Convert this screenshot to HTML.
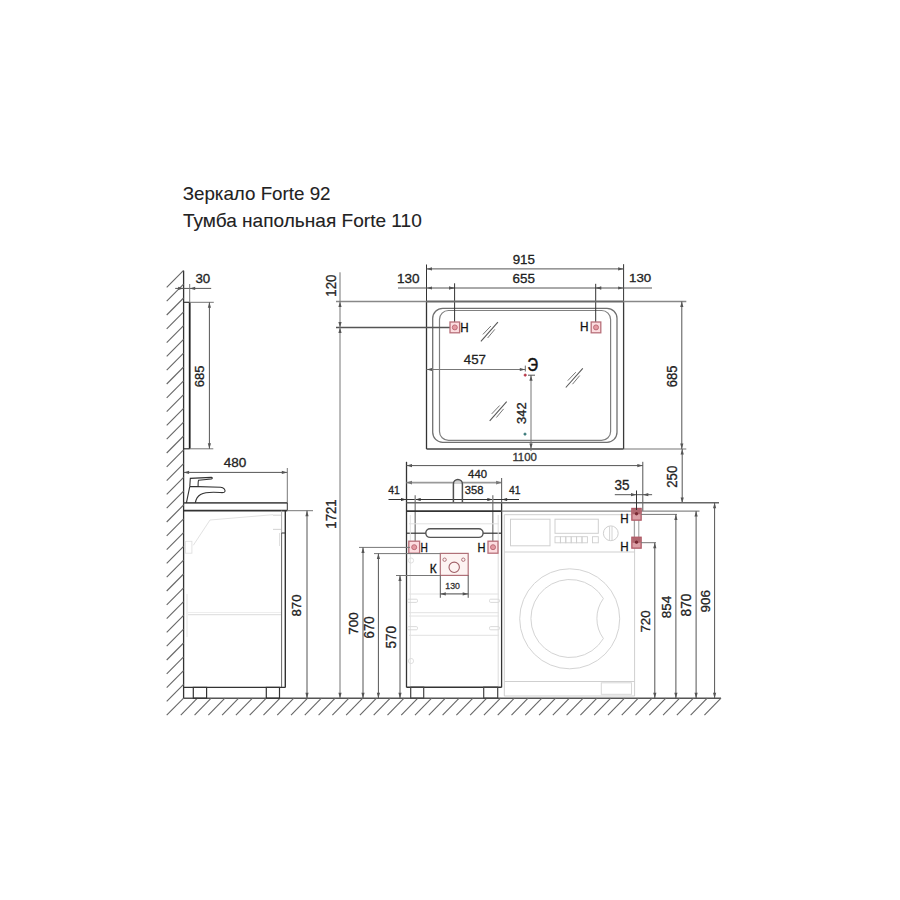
<!DOCTYPE html>
<html><head><meta charset="utf-8"><style>
html,body{margin:0;padding:0;background:#fff;width:900px;height:900px;overflow:hidden}
svg{display:block}
text{font-family:"Liberation Sans",sans-serif}
</style></head><body>
<svg width="900" height="900" viewBox="0 0 900 900">
<rect width="900" height="900" fill="#fff"/>
<text x="182.64" y="200.00" font-size="19" fill="#222" stroke="#222" stroke-width="0.1" text-anchor="start" textLength="147.8942948717949" lengthAdjust="spacingAndGlyphs" >Зеркало Forte 92</text>
<text x="182.92" y="227.20" font-size="19" fill="#222" stroke="#222" stroke-width="0.1" text-anchor="start" textLength="238.86790697674417" lengthAdjust="spacingAndGlyphs" >Тумба напольная Forte 110</text>
<line x1="183.60" y1="270.80" x2="183.60" y2="698.20" stroke="#333" stroke-width="1.3" />
<line x1="183.60" y1="698.20" x2="166.70" y2="715.20" stroke="#666" stroke-width="1.1" />
<line x1="183.60" y1="684.40" x2="166.70" y2="701.40" stroke="#666" stroke-width="1.1" />
<line x1="183.60" y1="670.60" x2="166.70" y2="687.60" stroke="#666" stroke-width="1.1" />
<line x1="183.60" y1="656.80" x2="166.70" y2="673.80" stroke="#666" stroke-width="1.1" />
<line x1="183.60" y1="643.00" x2="166.70" y2="660.00" stroke="#666" stroke-width="1.1" />
<line x1="183.60" y1="629.20" x2="166.70" y2="646.20" stroke="#666" stroke-width="1.1" />
<line x1="183.60" y1="615.40" x2="166.70" y2="632.40" stroke="#666" stroke-width="1.1" />
<line x1="183.60" y1="601.60" x2="166.70" y2="618.60" stroke="#666" stroke-width="1.1" />
<line x1="183.60" y1="587.80" x2="166.70" y2="604.80" stroke="#666" stroke-width="1.1" />
<line x1="183.60" y1="574.00" x2="166.70" y2="591.00" stroke="#666" stroke-width="1.1" />
<line x1="183.60" y1="560.20" x2="166.70" y2="577.20" stroke="#666" stroke-width="1.1" />
<line x1="183.60" y1="546.40" x2="166.70" y2="563.40" stroke="#666" stroke-width="1.1" />
<line x1="183.60" y1="532.60" x2="166.70" y2="549.60" stroke="#666" stroke-width="1.1" />
<line x1="183.60" y1="518.80" x2="166.70" y2="535.80" stroke="#666" stroke-width="1.1" />
<line x1="183.60" y1="505.00" x2="166.70" y2="522.00" stroke="#666" stroke-width="1.1" />
<line x1="183.60" y1="491.20" x2="166.70" y2="508.20" stroke="#666" stroke-width="1.1" />
<line x1="183.60" y1="477.40" x2="166.70" y2="494.40" stroke="#666" stroke-width="1.1" />
<line x1="183.60" y1="463.60" x2="166.70" y2="480.60" stroke="#666" stroke-width="1.1" />
<line x1="183.60" y1="449.80" x2="166.70" y2="466.80" stroke="#666" stroke-width="1.1" />
<line x1="183.60" y1="436.00" x2="166.70" y2="453.00" stroke="#666" stroke-width="1.1" />
<line x1="183.60" y1="422.20" x2="166.70" y2="439.20" stroke="#666" stroke-width="1.1" />
<line x1="183.60" y1="408.40" x2="166.70" y2="425.40" stroke="#666" stroke-width="1.1" />
<line x1="183.60" y1="394.60" x2="166.70" y2="411.60" stroke="#666" stroke-width="1.1" />
<line x1="183.60" y1="380.80" x2="166.70" y2="397.80" stroke="#666" stroke-width="1.1" />
<line x1="183.60" y1="367.00" x2="166.70" y2="384.00" stroke="#666" stroke-width="1.1" />
<line x1="183.60" y1="353.20" x2="166.70" y2="370.20" stroke="#666" stroke-width="1.1" />
<line x1="183.60" y1="339.40" x2="166.70" y2="356.40" stroke="#666" stroke-width="1.1" />
<line x1="183.60" y1="325.60" x2="166.70" y2="342.60" stroke="#666" stroke-width="1.1" />
<line x1="183.60" y1="311.80" x2="166.70" y2="328.80" stroke="#666" stroke-width="1.1" />
<line x1="183.60" y1="298.00" x2="166.70" y2="315.00" stroke="#666" stroke-width="1.1" />
<line x1="183.60" y1="284.20" x2="166.70" y2="301.20" stroke="#666" stroke-width="1.1" />
<line x1="183.60" y1="270.40" x2="166.70" y2="287.40" stroke="#666" stroke-width="1.1" />
<line x1="183.60" y1="698.20" x2="721.00" y2="698.20" stroke="#555" stroke-width="1.5" />
<line x1="197.38" y1="698.20" x2="180.78" y2="715.20" stroke="#666" stroke-width="1.1" />
<line x1="211.16" y1="698.20" x2="194.56" y2="715.20" stroke="#666" stroke-width="1.1" />
<line x1="224.94" y1="698.20" x2="208.34" y2="715.20" stroke="#666" stroke-width="1.1" />
<line x1="238.72" y1="698.20" x2="222.12" y2="715.20" stroke="#666" stroke-width="1.1" />
<line x1="252.50" y1="698.20" x2="235.90" y2="715.20" stroke="#666" stroke-width="1.1" />
<line x1="266.28" y1="698.20" x2="249.68" y2="715.20" stroke="#666" stroke-width="1.1" />
<line x1="280.06" y1="698.20" x2="263.46" y2="715.20" stroke="#666" stroke-width="1.1" />
<line x1="293.84" y1="698.20" x2="277.24" y2="715.20" stroke="#666" stroke-width="1.1" />
<line x1="307.62" y1="698.20" x2="291.02" y2="715.20" stroke="#666" stroke-width="1.1" />
<line x1="321.40" y1="698.20" x2="304.80" y2="715.20" stroke="#666" stroke-width="1.1" />
<line x1="335.18" y1="698.20" x2="318.58" y2="715.20" stroke="#666" stroke-width="1.1" />
<line x1="348.96" y1="698.20" x2="332.36" y2="715.20" stroke="#666" stroke-width="1.1" />
<line x1="362.74" y1="698.20" x2="346.14" y2="715.20" stroke="#666" stroke-width="1.1" />
<line x1="376.52" y1="698.20" x2="359.92" y2="715.20" stroke="#666" stroke-width="1.1" />
<line x1="390.30" y1="698.20" x2="373.70" y2="715.20" stroke="#666" stroke-width="1.1" />
<line x1="404.08" y1="698.20" x2="387.48" y2="715.20" stroke="#666" stroke-width="1.1" />
<line x1="417.86" y1="698.20" x2="401.26" y2="715.20" stroke="#666" stroke-width="1.1" />
<line x1="431.64" y1="698.20" x2="415.04" y2="715.20" stroke="#666" stroke-width="1.1" />
<line x1="445.42" y1="698.20" x2="428.82" y2="715.20" stroke="#666" stroke-width="1.1" />
<line x1="459.20" y1="698.20" x2="442.60" y2="715.20" stroke="#666" stroke-width="1.1" />
<line x1="472.98" y1="698.20" x2="456.38" y2="715.20" stroke="#666" stroke-width="1.1" />
<line x1="486.76" y1="698.20" x2="470.16" y2="715.20" stroke="#666" stroke-width="1.1" />
<line x1="500.54" y1="698.20" x2="483.94" y2="715.20" stroke="#666" stroke-width="1.1" />
<line x1="514.32" y1="698.20" x2="497.72" y2="715.20" stroke="#666" stroke-width="1.1" />
<line x1="528.10" y1="698.20" x2="511.50" y2="715.20" stroke="#666" stroke-width="1.1" />
<line x1="541.88" y1="698.20" x2="525.28" y2="715.20" stroke="#666" stroke-width="1.1" />
<line x1="555.66" y1="698.20" x2="539.06" y2="715.20" stroke="#666" stroke-width="1.1" />
<line x1="569.44" y1="698.20" x2="552.84" y2="715.20" stroke="#666" stroke-width="1.1" />
<line x1="583.22" y1="698.20" x2="566.62" y2="715.20" stroke="#666" stroke-width="1.1" />
<line x1="597.00" y1="698.20" x2="580.40" y2="715.20" stroke="#666" stroke-width="1.1" />
<line x1="610.78" y1="698.20" x2="594.18" y2="715.20" stroke="#666" stroke-width="1.1" />
<line x1="624.56" y1="698.20" x2="607.96" y2="715.20" stroke="#666" stroke-width="1.1" />
<line x1="638.34" y1="698.20" x2="621.74" y2="715.20" stroke="#666" stroke-width="1.1" />
<line x1="652.12" y1="698.20" x2="635.52" y2="715.20" stroke="#666" stroke-width="1.1" />
<line x1="665.90" y1="698.20" x2="649.30" y2="715.20" stroke="#666" stroke-width="1.1" />
<line x1="679.68" y1="698.20" x2="663.08" y2="715.20" stroke="#666" stroke-width="1.1" />
<line x1="693.46" y1="698.20" x2="676.86" y2="715.20" stroke="#666" stroke-width="1.1" />
<line x1="707.24" y1="698.20" x2="690.64" y2="715.20" stroke="#666" stroke-width="1.1" />
<line x1="721.02" y1="698.20" x2="704.42" y2="715.20" stroke="#666" stroke-width="1.1" />
<line x1="183.60" y1="302.30" x2="189.70" y2="302.30" stroke="#333" stroke-width="1.2" />
<line x1="183.60" y1="448.80" x2="189.70" y2="448.80" stroke="#333" stroke-width="1.2" />
<line x1="189.70" y1="302.30" x2="189.70" y2="448.80" stroke="#222" stroke-width="1.8" />
<line x1="175.20" y1="288.40" x2="211.20" y2="288.40" stroke="#555" stroke-width="1" />
<line x1="189.70" y1="284.00" x2="189.70" y2="302.30" stroke="#777" stroke-width="1" />
<polygon points="183.60,288.40 178.10,286.80 178.10,290.00" fill="#555"/>
<polygon points="189.70,288.40 195.20,286.80 195.20,290.00" fill="#555"/>
<text x="195.42" y="283.22" font-size="13.24" fill="#222" stroke="#222" stroke-width="0.3" textLength="14.83" lengthAdjust="spacingAndGlyphs">30</text>
<line x1="189.70" y1="302.30" x2="213.80" y2="302.30" stroke="#777" stroke-width="1" />
<line x1="189.70" y1="448.80" x2="213.30" y2="448.80" stroke="#777" stroke-width="1" />
<line x1="209.40" y1="302.30" x2="209.40" y2="448.80" stroke="#555" stroke-width="1" />
<polygon points="209.40,302.30 207.80,307.80 211.00,307.80" fill="#555"/>
<polygon points="209.40,448.80 207.80,443.30 211.00,443.30" fill="#555"/>
<text x="0" y="0" font-size="13.10" fill="#222" stroke="#222" stroke-width="0.3" textLength="21.72" lengthAdjust="spacingAndGlyphs" transform="translate(204.22 387.30) rotate(-90)">685</text>
<line x1="183.60" y1="472.40" x2="287.30" y2="472.40" stroke="#555" stroke-width="1" />
<polygon points="183.60,472.40 189.10,470.80 189.10,474.00" fill="#555"/>
<polygon points="287.30,472.40 281.80,470.80 281.80,474.00" fill="#555"/>
<line x1="287.30" y1="468.00" x2="287.30" y2="502.90" stroke="#777" stroke-width="1" />
<text x="223.68" y="467.32" font-size="12.96" fill="#222" stroke="#222" stroke-width="0.3" textLength="22.59" lengthAdjust="spacingAndGlyphs">480</text>
<line x1="183.60" y1="502.90" x2="287.30" y2="502.90" stroke="#555" stroke-width="1.8" />
<line x1="183.60" y1="510.70" x2="287.30" y2="510.70" stroke="#333" stroke-width="1.8" />
<line x1="287.30" y1="502.90" x2="287.30" y2="510.70" stroke="#333" stroke-width="1" />
<line x1="285.30" y1="510.70" x2="285.30" y2="687.40" stroke="#333" stroke-width="1.4" />
<line x1="281.60" y1="533.00" x2="281.60" y2="687.40" stroke="#666" stroke-width="1" />
<line x1="281.60" y1="510.70" x2="281.60" y2="533.00" stroke="#aaa" stroke-width="1" />
<line x1="281.60" y1="533.00" x2="285.30" y2="533.00" stroke="#333" stroke-width="1" />
<line x1="183.60" y1="687.40" x2="285.30" y2="687.40" stroke="#333" stroke-width="1.2" />
<rect x="193.30" y="687.40" width="13.30" height="10.80" rx="0" fill="none" stroke="#333" stroke-width="1.2"/>
<rect x="266.30" y="687.40" width="13.20" height="10.80" rx="0" fill="none" stroke="#333" stroke-width="1.2"/>
<path d="M210,520 L273,514.7" fill="none" stroke="#e2e2e2" stroke-width="1" />
<path d="M210,520 L193.3,545.3" fill="none" stroke="#e2e2e2" stroke-width="1" />
<line x1="188.00" y1="614.70" x2="281.00" y2="614.70" stroke="#e2e2e2" stroke-width="1.2" />
<line x1="187.00" y1="594.00" x2="187.00" y2="637.00" stroke="#e4e4e4" stroke-width="1" />
<rect x="185.40" y="541.30" width="6.50" height="11.90" rx="0" fill="none" stroke="#e0e0e0" stroke-width="0.9"/>
<line x1="273.00" y1="515.20" x2="281.00" y2="515.20" stroke="#d8d8d8" stroke-width="1.2" />
<line x1="273.00" y1="529.40" x2="281.00" y2="529.40" stroke="#d8d8d8" stroke-width="1.2" />
<line x1="279.50" y1="533.00" x2="279.50" y2="546.00" stroke="#e0e0e0" stroke-width="1" />
<line x1="188.00" y1="612.50" x2="281.00" y2="612.50" stroke="#eee" stroke-width="1" />
<path d="M186.4,502.8 L189.8,486.4 L190.3,478.4 L211.2,477.4 C212.6,477.5 212.6,478.8 211.4,479 L198.6,480.2 C198.1,481 198.1,483 198.1,486.4 M189.8,486.4 L220.6,487.2 C223.8,487.5 225.6,489.8 224.9,491.6 C224.5,492.6 222.6,492.8 220.2,492.5 C211,491.8 205,492.1 200.6,494.4 C197.5,496.2 195.8,499.5 195.3,502.8" fill="none" stroke="#333" stroke-width="1.1" />
<line x1="287.30" y1="510.70" x2="313.00" y2="510.70" stroke="#777" stroke-width="1" />
<line x1="307.00" y1="510.70" x2="307.00" y2="698.20" stroke="#555" stroke-width="1" />
<polygon points="307.00,510.70 305.40,516.20 308.60,516.20" fill="#555"/>
<polygon points="307.00,698.20 305.40,692.70 308.60,692.70" fill="#555"/>
<text x="0" y="0" font-size="13.10" fill="#222" stroke="#222" stroke-width="0.3" textLength="21.90" lengthAdjust="spacingAndGlyphs" transform="translate(301.12 616.44) rotate(-90)">870</text>
<line x1="426.50" y1="301.50" x2="426.50" y2="449.00" stroke="#333" stroke-width="1.3" />
<line x1="623.60" y1="301.50" x2="623.60" y2="449.00" stroke="#3a3a3a" stroke-width="1.3" />
<line x1="426.50" y1="449.00" x2="623.60" y2="449.00" stroke="#444" stroke-width="1.5" />
<rect x="432.70" y="308.30" width="184.30" height="134.00" rx="10" fill="none" stroke="#707070" stroke-width="1.3"/>
<rect x="439.50" y="310.50" width="171.10" height="129.90" rx="9" fill="none" stroke="#808080" stroke-width="1.2"/>
<line x1="426.50" y1="264.50" x2="426.50" y2="301.50" stroke="#333" stroke-width="1" />
<line x1="623.60" y1="264.20" x2="623.60" y2="301.50" stroke="#333" stroke-width="1" />
<line x1="426.50" y1="268.90" x2="623.60" y2="268.90" stroke="#555" stroke-width="1" />
<polygon points="426.50,268.90 432.00,267.30 432.00,270.50" fill="#555"/>
<polygon points="623.60,268.90 618.10,267.30 618.10,270.50" fill="#555"/>
<text x="512.65" y="264.02" font-size="12.68" fill="#222" stroke="#222" stroke-width="0.3" textLength="22.28" lengthAdjust="spacingAndGlyphs">915</text>
<line x1="398.00" y1="288.00" x2="652.00" y2="288.00" stroke="#555" stroke-width="1" />
<polygon points="426.50,288.00 432.00,286.40 432.00,289.60" fill="#555"/>
<polygon points="454.60,288.00 449.10,286.40 449.10,289.60" fill="#555"/>
<polygon points="454.60,288.00 449.10,286.40 449.10,289.60" fill="#555"/>
<polygon points="595.70,288.00 601.20,286.40 601.20,289.60" fill="#555"/>
<polygon points="595.70,288.00 601.20,286.40 601.20,289.60" fill="#555"/>
<polygon points="623.60,288.00 618.10,286.40 618.10,289.60" fill="#555"/>
<text x="396.94" y="282.53" font-size="12.39" fill="#222" stroke="#222" stroke-width="0.3" textLength="22.53" lengthAdjust="spacingAndGlyphs">130</text>
<text x="512.58" y="282.53" font-size="12.39" fill="#222" stroke="#222" stroke-width="0.3" textLength="22.35" lengthAdjust="spacingAndGlyphs">655</text>
<text x="629.05" y="282.43" font-size="11.69" fill="#222" stroke="#222" stroke-width="0.3" textLength="22.21" lengthAdjust="spacingAndGlyphs">130</text>
<line x1="454.60" y1="283.30" x2="454.60" y2="324.00" stroke="#333" stroke-width="1" />
<line x1="595.70" y1="283.80" x2="595.70" y2="324.00" stroke="#333" stroke-width="1" />
<line x1="336.00" y1="301.50" x2="426.50" y2="301.50" stroke="#888" stroke-width="1.5" />
<line x1="426.50" y1="301.50" x2="623.60" y2="301.50" stroke="#6a6a6a" stroke-width="2" />
<line x1="623.60" y1="301.50" x2="686.30" y2="301.50" stroke="#888" stroke-width="1.5" />
<line x1="336.00" y1="327.50" x2="452.00" y2="327.50" stroke="#555" stroke-width="1.3" />
<line x1="340.00" y1="272.30" x2="340.00" y2="698.20" stroke="#777" stroke-width="1" />
<polygon points="340.00,301.50 338.40,307.00 341.60,307.00" fill="#555"/>
<polygon points="340.00,327.50 338.40,322.00 341.60,322.00" fill="#555"/>
<polygon points="340.00,327.50 338.40,333.00 341.60,333.00" fill="#555"/>
<polygon points="340.00,698.20 338.40,692.70 341.60,692.70" fill="#555"/>
<text x="0" y="0" font-size="13.80" fill="#222" stroke="#222" stroke-width="0.3" textLength="22.00" lengthAdjust="spacingAndGlyphs" transform="translate(335.61 296.64) rotate(-90)">120</text>
<text x="0" y="0" font-size="13.86" fill="#222" stroke="#222" stroke-width="0.3" textLength="29.49" lengthAdjust="spacingAndGlyphs" transform="translate(335.75 528.74) rotate(-90)">1721</text>
<line x1="426.50" y1="369.50" x2="525.30" y2="369.50" stroke="#777" stroke-width="1.1" />
<polygon points="426.50,369.50 432.00,367.90 432.00,371.10" fill="#555"/>
<polygon points="525.30,369.50 519.80,367.90 519.80,371.10" fill="#555"/>
<line x1="525.30" y1="365.60" x2="525.30" y2="371.50" stroke="#555" stroke-width="0.9" />
<text x="463.78" y="364.32" font-size="13.14" fill="#222" stroke="#222" stroke-width="0.3" textLength="22.18" lengthAdjust="spacingAndGlyphs">457</text>
<text x="527.55" y="371.26" font-size="18.87" fill="#111" stroke="#111" stroke-width="0.55" textLength="10.50" lengthAdjust="spacingAndGlyphs">Э</text>
<circle cx="525.20" cy="375.10" r="1.20" fill="#b83848" stroke="#b83848" stroke-width="0.6"/>
<line x1="531.00" y1="375.00" x2="531.00" y2="451.00" stroke="#777" stroke-width="1" />
<line x1="528.00" y1="375.20" x2="535.00" y2="375.20" stroke="#555" stroke-width="1" />
<polygon points="531.00,375.20 529.40,380.70 532.60,380.70" fill="#555"/>
<polygon points="531.00,449.00 529.40,443.50 532.60,443.50" fill="#555"/>
<text x="0" y="0" font-size="12.96" fill="#222" stroke="#222" stroke-width="0.3" textLength="21.61" lengthAdjust="spacingAndGlyphs" transform="translate(526.12 423.97) rotate(-90)">342</text>
<circle cx="525.00" cy="434.10" r="1.20" fill="#3a7a7a" stroke="#3a7a7a" stroke-width="0.6"/>
<line x1="480.90" y1="341.30" x2="497.90" y2="322.10" stroke="#555" stroke-width="1.05" />
<line x1="482.90" y1="334.40" x2="490.90" y2="326.00" stroke="#777" stroke-width="1.0" />
<line x1="487.60" y1="338.00" x2="494.80" y2="329.40" stroke="#777" stroke-width="1.0" />
<line x1="565.80" y1="387.50" x2="582.80" y2="368.30" stroke="#555" stroke-width="1.05" />
<line x1="567.80" y1="380.60" x2="575.80" y2="372.20" stroke="#777" stroke-width="1.0" />
<line x1="572.50" y1="384.20" x2="579.70" y2="375.60" stroke="#777" stroke-width="1.0" />
<line x1="489.70" y1="420.80" x2="506.70" y2="401.60" stroke="#555" stroke-width="1.05" />
<line x1="491.70" y1="413.90" x2="499.70" y2="405.50" stroke="#777" stroke-width="1.0" />
<line x1="496.40" y1="417.50" x2="503.60" y2="408.90" stroke="#777" stroke-width="1.0" />
<line x1="623.60" y1="449.00" x2="686.30" y2="449.00" stroke="#777" stroke-width="1.2" />
<line x1="681.80" y1="301.50" x2="681.80" y2="449.00" stroke="#555" stroke-width="1" />
<polygon points="681.80,301.50 680.20,307.00 683.40,307.00" fill="#555"/>
<polygon points="681.80,449.00 680.20,443.50 683.40,443.50" fill="#555"/>
<text x="0" y="0" font-size="13.94" fill="#222" stroke="#222" stroke-width="0.3" textLength="21.72" lengthAdjust="spacingAndGlyphs" transform="translate(677.31 387.30) rotate(-90)">685</text>
<line x1="682.20" y1="449.00" x2="682.20" y2="503.00" stroke="#555" stroke-width="1" />
<polygon points="682.20,449.00 680.60,454.50 683.80,454.50" fill="#555"/>
<polygon points="682.20,503.00 680.60,497.50 683.80,497.50" fill="#555"/>
<text x="0" y="0" font-size="13.94" fill="#222" stroke="#222" stroke-width="0.3" textLength="22.18" lengthAdjust="spacingAndGlyphs" transform="translate(677.31 487.81) rotate(-90)">250</text>
<rect x="450.00" y="322.00" width="9.60" height="10.80" rx="0" fill="#fcdde0" stroke="#b8707a" stroke-width="1.3"/>
<circle cx="454.80" cy="327.40" r="2.50" fill="#e49aa2" stroke="#b86570" stroke-width="0.9"/>
<rect x="591.20" y="322.00" width="9.60" height="10.80" rx="0" fill="#fcdde0" stroke="#b8707a" stroke-width="1.3"/>
<circle cx="596.00" cy="327.40" r="2.50" fill="#e49aa2" stroke="#b86570" stroke-width="0.9"/>
<text x="460.22" y="331.65" font-size="12.46" fill="#111" stroke="#111" stroke-width="0.3" textLength="8.38" lengthAdjust="spacingAndGlyphs">Н</text>
<text x="580.01" y="331.45" font-size="11.88" fill="#111" stroke="#111" stroke-width="0.3" textLength="8.51" lengthAdjust="spacingAndGlyphs">Н</text>
<line x1="406.50" y1="461.80" x2="406.50" y2="687.40" stroke="#333" stroke-width="1.3" />
<line x1="406.50" y1="465.60" x2="642.80" y2="465.60" stroke="#555" stroke-width="1" />
<polygon points="406.50,465.60 412.00,464.00 412.00,467.20" fill="#555"/>
<polygon points="642.80,465.60 637.30,464.00 637.30,467.20" fill="#555"/>
<line x1="642.80" y1="461.80" x2="642.80" y2="511.00" stroke="#555" stroke-width="1" />
<text x="512.40" y="460.65" font-size="10.14" fill="#333" stroke="#333" stroke-width="0.3" textLength="24.46" lengthAdjust="spacingAndGlyphs">1100</text>
<line x1="406.50" y1="482.60" x2="501.60" y2="482.60" stroke="#9a9a9a" stroke-width="1.7" />
<polygon points="406.50,482.60 412.00,480.80 412.00,484.40" fill="#777"/>
<polygon points="501.60,482.60 496.10,480.80 496.10,484.40" fill="#777"/>
<line x1="501.60" y1="478.00" x2="501.60" y2="502.80" stroke="#666" stroke-width="1.1" />
<line x1="501.60" y1="502.80" x2="501.60" y2="687.40" stroke="#333" stroke-width="1.3" />
<text x="468.12" y="477.84" font-size="10.56" fill="#222" stroke="#222" stroke-width="0.3" textLength="18.86" lengthAdjust="spacingAndGlyphs">440</text>
<line x1="388.50" y1="499.50" x2="519.00" y2="499.50" stroke="#333" stroke-width="1" />
<polygon points="406.50,499.50 401.00,497.90 401.00,501.10" fill="#333"/>
<polygon points="415.20,499.50 420.70,497.90 420.70,501.10" fill="#333"/>
<polygon points="492.80,499.50 487.30,497.90 487.30,501.10" fill="#333"/>
<polygon points="501.60,499.50 507.10,497.90 507.10,501.10" fill="#333"/>
<text x="388.24" y="493.75" font-size="10.58" fill="#222" stroke="#222" stroke-width="0.3" textLength="11.60" lengthAdjust="spacingAndGlyphs">41</text>
<text x="464.80" y="494.04" font-size="10.85" fill="#222" stroke="#222" stroke-width="0.3" textLength="18.63" lengthAdjust="spacingAndGlyphs">358</text>
<text x="509.04" y="494.15" font-size="10.87" fill="#222" stroke="#222" stroke-width="0.3" textLength="11.50" lengthAdjust="spacingAndGlyphs">41</text>
<line x1="415.20" y1="495.20" x2="415.20" y2="542.00" stroke="#8a8a8a" stroke-width="1.4" />
<line x1="492.80" y1="495.20" x2="492.80" y2="542.00" stroke="#8a8a8a" stroke-width="1.4" />
<path d="M453.4,484 A4.5,4.5 0 0 1 462.4,484 Z" fill="#d0d0d0" stroke="none" stroke-width="0" />
<path d="M453.4,503 L453.4,484 A4.5,4.5 0 0 1 462.4,484 L462.4,503" fill="none" stroke="#505050" stroke-width="1.5" />
<line x1="406.50" y1="502.80" x2="719.00" y2="502.80" stroke="#666" stroke-width="1.4" />
<line x1="406.50" y1="511.10" x2="501.60" y2="511.10" stroke="#333" stroke-width="1.8" />
<line x1="501.60" y1="511.10" x2="699.50" y2="511.10" stroke="#888" stroke-width="1.4" />
<line x1="406.50" y1="533.20" x2="426.00" y2="533.20" stroke="#333" stroke-width="1.2" />
<line x1="483.00" y1="533.20" x2="501.60" y2="533.20" stroke="#333" stroke-width="1.2" />
<rect x="425.80" y="528.80" width="57.30" height="8.60" rx="4.3" fill="none" stroke="#555" stroke-width="1.4"/>
<line x1="410.30" y1="515.00" x2="410.30" y2="686.00" stroke="#e2e2e2" stroke-width="1" />
<line x1="498.20" y1="515.00" x2="498.20" y2="686.00" stroke="#dcdcdc" stroke-width="1" />
<rect x="407.50" y="599.20" width="10.00" height="3.20" rx="1.2" fill="none" stroke="#d6d6d6" stroke-width="0.9"/>
<rect x="489.50" y="599.20" width="10.00" height="3.20" rx="1.2" fill="none" stroke="#d6d6d6" stroke-width="0.9"/>
<rect x="407.50" y="626.60" width="10.00" height="3.20" rx="1.2" fill="none" stroke="#d6d6d6" stroke-width="0.9"/>
<rect x="489.50" y="626.60" width="10.00" height="3.20" rx="1.2" fill="none" stroke="#d6d6d6" stroke-width="0.9"/>
<circle cx="411.00" cy="560.50" r="2.60" fill="none" stroke="#dcdcdc" stroke-width="0.9"/>
<circle cx="411.00" cy="661.00" r="2.60" fill="none" stroke="#dcdcdc" stroke-width="0.9"/>
<line x1="409.00" y1="523.80" x2="499.00" y2="523.80" stroke="#e2e2e2" stroke-width="1" />
<line x1="409.00" y1="594.00" x2="499.00" y2="594.00" stroke="#e2e2e2" stroke-width="1" />
<line x1="409.00" y1="612.70" x2="499.00" y2="612.70" stroke="#e2e2e2" stroke-width="1" />
<line x1="409.00" y1="616.00" x2="499.00" y2="616.00" stroke="#e2e2e2" stroke-width="1" />
<line x1="409.00" y1="635.30" x2="499.00" y2="635.30" stroke="#e2e2e2" stroke-width="1" />
<line x1="406.50" y1="687.20" x2="501.60" y2="687.20" stroke="#333" stroke-width="1.4" />
<rect x="410.70" y="687.20" width="13.00" height="11.00" rx="0" fill="none" stroke="#444" stroke-width="1.2"/>
<rect x="483.70" y="687.20" width="14.00" height="11.00" rx="0" fill="none" stroke="#444" stroke-width="1.2"/>
<rect x="408.80" y="541.20" width="10.80" height="12.00" rx="0" fill="#fcdde0" stroke="#b8707a" stroke-width="1.3"/>
<circle cx="414.20" cy="547.20" r="2.50" fill="#e49aa2" stroke="#b86570" stroke-width="0.9"/>
<rect x="488.00" y="541.20" width="10.00" height="12.00" rx="0" fill="#fcdde0" stroke="#b8707a" stroke-width="1.3"/>
<circle cx="493.00" cy="547.20" r="2.50" fill="#e49aa2" stroke="#b86570" stroke-width="0.9"/>
<text x="420.44" y="551.95" font-size="12.32" fill="#111" stroke="#111" stroke-width="0.3" textLength="7.35" lengthAdjust="spacingAndGlyphs">Н</text>
<text x="477.56" y="551.85" font-size="12.46" fill="#111" stroke="#111" stroke-width="0.3" textLength="8.00" lengthAdjust="spacingAndGlyphs">Н</text>
<rect x="440.30" y="553.40" width="27.90" height="22.00" rx="0" fill="#fdf3f2" stroke="#b07078" stroke-width="1.2"/>
<circle cx="444.60" cy="559.70" r="1.70" fill="none" stroke="#a86870" stroke-width="0.9"/>
<circle cx="463.30" cy="559.70" r="1.70" fill="none" stroke="#a86870" stroke-width="0.9"/>
<circle cx="454.20" cy="567.30" r="5.20" fill="none" stroke="#a06068" stroke-width="1.1"/>
<text x="429.80" y="572.75" font-size="12.46" fill="#111" stroke="#111" stroke-width="0.3" textLength="6.94" lengthAdjust="spacingAndGlyphs">К</text>
<line x1="440.30" y1="575.40" x2="440.30" y2="597.80" stroke="#555" stroke-width="1" />
<line x1="468.20" y1="575.40" x2="468.20" y2="597.80" stroke="#555" stroke-width="1" />
<line x1="440.30" y1="593.90" x2="468.20" y2="593.90" stroke="#555" stroke-width="1" />
<polygon points="440.30,593.90 445.80,592.30 445.80,595.50" fill="#555"/>
<polygon points="468.20,593.90 462.70,592.30 462.70,595.50" fill="#555"/>
<text x="445.39" y="589.06" font-size="8.59" fill="#333" stroke="#333" stroke-width="0.3" textLength="14.59" lengthAdjust="spacingAndGlyphs">130</text>
<line x1="359.00" y1="547.40" x2="410.00" y2="547.40" stroke="#777" stroke-width="1" />
<line x1="374.00" y1="553.60" x2="440.30" y2="553.60" stroke="#777" stroke-width="1" />
<line x1="396.00" y1="575.50" x2="440.30" y2="575.50" stroke="#777" stroke-width="1" />
<line x1="363.00" y1="547.40" x2="363.00" y2="698.20" stroke="#555" stroke-width="1" />
<polygon points="363.00,547.40 361.40,552.90 364.60,552.90" fill="#555"/>
<polygon points="363.00,698.20 361.40,692.70 364.60,692.70" fill="#555"/>
<line x1="378.40" y1="553.60" x2="378.40" y2="698.20" stroke="#555" stroke-width="1" />
<polygon points="378.40,553.60 376.80,559.10 380.00,559.10" fill="#555"/>
<polygon points="378.40,698.20 376.80,692.70 380.00,692.70" fill="#555"/>
<line x1="400.00" y1="575.50" x2="400.00" y2="698.20" stroke="#555" stroke-width="1" />
<polygon points="400.00,575.50 398.40,581.00 401.60,581.00" fill="#555"/>
<polygon points="400.00,698.20 398.40,692.70 401.60,692.70" fill="#555"/>
<text x="0" y="0" font-size="12.39" fill="#222" stroke="#222" stroke-width="0.3" textLength="22.28" lengthAdjust="spacingAndGlyphs" transform="translate(357.63 634.72) rotate(-90)">700</text>
<text x="0" y="0" font-size="13.80" fill="#222" stroke="#222" stroke-width="0.3" textLength="21.97" lengthAdjust="spacingAndGlyphs" transform="translate(373.61 638.41) rotate(-90)">670</text>
<text x="0" y="0" font-size="14.23" fill="#222" stroke="#222" stroke-width="0.3" textLength="22.56" lengthAdjust="spacingAndGlyphs" transform="translate(395.91 648.59) rotate(-90)">570</text>
<line x1="504.30" y1="514.70" x2="634.60" y2="514.70" stroke="#cfcfcf" stroke-width="1" />
<line x1="504.30" y1="514.70" x2="504.30" y2="696.00" stroke="#cfcfcf" stroke-width="1" />
<line x1="634.60" y1="514.70" x2="634.60" y2="696.00" stroke="#cfcfcf" stroke-width="1" />
<line x1="504.30" y1="696.00" x2="634.60" y2="696.00" stroke="#cfcfcf" stroke-width="1" />
<line x1="504.30" y1="552.00" x2="634.60" y2="552.00" stroke="#cfcfcf" stroke-width="1" />
<line x1="504.30" y1="681.50" x2="634.60" y2="681.50" stroke="#cfcfcf" stroke-width="1" />
<rect x="510.50" y="519.20" width="39.50" height="26.60" rx="0" fill="none" stroke="#cfcfcf" stroke-width="1"/>
<rect x="555.00" y="519.20" width="43.30" height="14.10" rx="0" fill="none" stroke="#cfcfcf" stroke-width="1"/>
<rect x="555.00" y="536.70" width="5.40" height="6.10" rx="0" fill="none" stroke="#cfcfcf" stroke-width="0.9"/>
<rect x="560.40" y="536.70" width="5.40" height="6.10" rx="0" fill="none" stroke="#cfcfcf" stroke-width="0.9"/>
<rect x="565.80" y="536.70" width="5.40" height="6.10" rx="0" fill="none" stroke="#cfcfcf" stroke-width="0.9"/>
<rect x="571.20" y="536.70" width="5.40" height="6.10" rx="0" fill="none" stroke="#cfcfcf" stroke-width="0.9"/>
<rect x="576.60" y="536.70" width="5.40" height="6.10" rx="0" fill="none" stroke="#cfcfcf" stroke-width="0.9"/>
<rect x="582.00" y="536.70" width="5.40" height="6.10" rx="0" fill="none" stroke="#cfcfcf" stroke-width="0.9"/>
<rect x="592.50" y="536.70" width="5.80" height="6.10" rx="0" fill="none" stroke="#cfcfcf" stroke-width="0.9"/>
<circle cx="610.80" cy="533.30" r="7.40" fill="none" stroke="#cfcfcf" stroke-width="1"/>
<line x1="609.60" y1="526.50" x2="609.60" y2="540.00" stroke="#cfcfcf" stroke-width="0.9" />
<line x1="612.00" y1="526.50" x2="612.00" y2="540.00" stroke="#cfcfcf" stroke-width="0.9" />
<rect x="601.30" y="682.80" width="30.20" height="11.50" rx="0" fill="none" stroke="#d8d8d8" stroke-width="1"/>
<circle cx="569.70" cy="618.80" r="50.00" fill="none" stroke="#d4d4d4" stroke-width="1"/>
<path d="M603.4,598.5 A39,39 0 1 0 603.4,638.5 A34,34 0 0 1 603.4,598.5 Z" fill="none" stroke="#d4d4d4" stroke-width="1" />
<line x1="634.30" y1="520.00" x2="634.30" y2="537.50" stroke="#999" stroke-width="1" />
<line x1="638.80" y1="520.00" x2="638.80" y2="537.50" stroke="#999" stroke-width="1" />
<rect x="631.85" y="508.45" width="9.30" height="11.70" rx="0" fill="#dba0a6" stroke="#b05a66" stroke-width="1.3"/>
<rect x="632.45" y="509.05" width="8.10" height="5.26" fill="#9a4852" opacity="0.65"/>
<circle cx="636.50" cy="513.80" r="1.30" fill="#7a2a34" stroke="#6a1a24" stroke-width="0.6"/>
<rect x="631.85" y="537.25" width="9.30" height="10.90" rx="0" fill="#dba0a6" stroke="#b05a66" stroke-width="1.3"/>
<rect x="632.45" y="537.85" width="8.10" height="4.91" fill="#9a4852" opacity="0.65"/>
<circle cx="636.50" cy="542.20" r="1.30" fill="#7a2a34" stroke="#6a1a24" stroke-width="0.6"/>
<text x="620.32" y="522.95" font-size="13.48" fill="#111" stroke="#111" stroke-width="0.3" textLength="8.38" lengthAdjust="spacingAndGlyphs">Н</text>
<text x="620.32" y="551.25" font-size="12.90" fill="#111" stroke="#111" stroke-width="0.3" textLength="8.38" lengthAdjust="spacingAndGlyphs">Н</text>
<line x1="614.80" y1="494.70" x2="652.10" y2="494.70" stroke="#555" stroke-width="1" />
<line x1="636.50" y1="490.50" x2="636.50" y2="510.00" stroke="#333" stroke-width="1" />
<polygon points="636.50,494.70 631.00,493.10 631.00,496.30" fill="#555"/>
<polygon points="642.80,494.70 648.30,493.10 648.30,496.30" fill="#555"/>
<text x="614.51" y="490.01" font-size="13.94" fill="#222" stroke="#222" stroke-width="0.3" textLength="15.01" lengthAdjust="spacingAndGlyphs">35</text>
<line x1="641.00" y1="514.40" x2="677.00" y2="514.40" stroke="#777" stroke-width="1" />
<line x1="641.00" y1="542.70" x2="656.00" y2="542.70" stroke="#777" stroke-width="1" />
<line x1="654.80" y1="542.70" x2="654.80" y2="698.20" stroke="#555" stroke-width="1" />
<polygon points="654.80,542.70 653.20,548.20 656.40,548.20" fill="#555"/>
<polygon points="654.80,698.20 653.20,692.70 656.40,692.70" fill="#555"/>
<line x1="675.90" y1="514.40" x2="675.90" y2="698.20" stroke="#555" stroke-width="1" />
<polygon points="675.90,514.40 674.30,519.90 677.50,519.90" fill="#555"/>
<polygon points="675.90,698.20 674.30,692.70 677.50,692.70" fill="#555"/>
<line x1="696.10" y1="511.10" x2="696.10" y2="698.20" stroke="#555" stroke-width="1" />
<polygon points="696.10,511.10 694.50,516.60 697.70,516.60" fill="#555"/>
<polygon points="696.10,698.20 694.50,692.70 697.70,692.70" fill="#555"/>
<line x1="714.60" y1="502.80" x2="714.60" y2="698.20" stroke="#555" stroke-width="1" />
<polygon points="714.60,502.80 713.00,508.30 716.20,508.30" fill="#555"/>
<polygon points="714.60,698.20 713.00,692.70 716.20,692.70" fill="#555"/>
<text x="0" y="0" font-size="12.39" fill="#222" stroke="#222" stroke-width="0.3" textLength="21.97" lengthAdjust="spacingAndGlyphs" transform="translate(649.63 632.51) rotate(-90)">720</text>
<text x="0" y="0" font-size="12.96" fill="#222" stroke="#222" stroke-width="0.3" textLength="22.35" lengthAdjust="spacingAndGlyphs" transform="translate(670.92 618.25) rotate(-90)">854</text>
<text x="0" y="0" font-size="14.37" fill="#222" stroke="#222" stroke-width="0.3" textLength="22.84" lengthAdjust="spacingAndGlyphs" transform="translate(691.41 616.47) rotate(-90)">870</text>
<text x="0" y="0" font-size="13.66" fill="#222" stroke="#222" stroke-width="0.3" textLength="22.49" lengthAdjust="spacingAndGlyphs" transform="translate(710.01 612.46) rotate(-90)">906</text>
</svg>
</body></html>
